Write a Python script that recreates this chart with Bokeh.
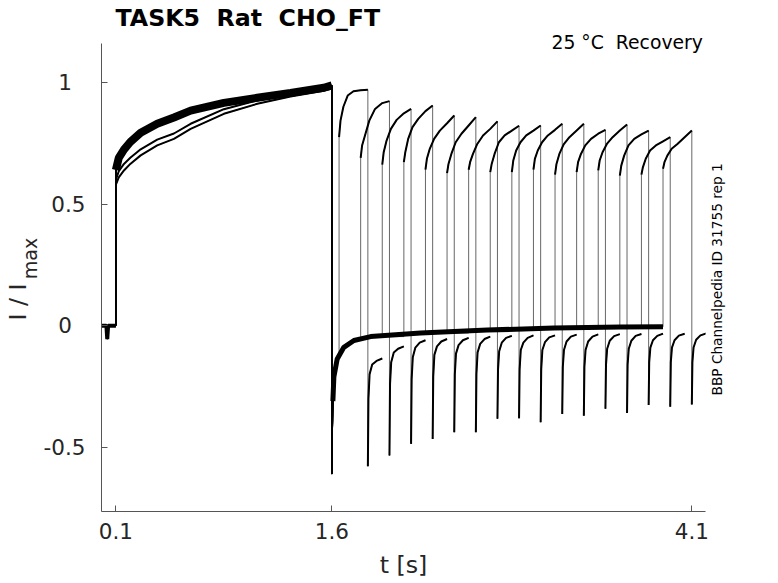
import math
from bokeh.plotting import figure
from bokeh.models import Range1d, FixedTicker, LinearAxis
from bokeh.embed import file_html
from bokeh.resources import INLINE

# ---------------- data ----------------
t_base = [0.0, 0.034, 0.040, 0.046, 0.1]
i_base = [0.0, 0.0, -0.055, 0.0, 0.0]

t_pre = [0.1, 0.12, 0.156, 0.20, 0.272, 0.387, 0.503, 0.619, 0.85, 1.082, 1.313, 1.544, 1.6]
i_pre_upper = [0.64, 0.69, 0.724, 0.755, 0.793, 0.830, 0.856, 0.884, 0.916, 0.937, 0.957, 0.978, 0.988]
i_pre_low1 = [0.58, 0.61, 0.638, 0.665, 0.700, 0.741, 0.768, 0.809, 0.871, 0.912, 0.942, 0.966, 0.975]
i_pre_low2 = [0.60, 0.635, 0.665, 0.690, 0.725, 0.765, 0.790, 0.830, 0.890, 0.926, 0.952, 0.972, 0.980]

t_rec = [1.6, 1.607, 1.614, 1.637, 1.683, 1.753, 1.869, 2.216, 2.679, 3.142, 3.605, 3.9]
i_rec = [-0.61, -0.31, -0.21, -0.137, -0.089, -0.061, -0.045, -0.030, -0.018, -0.010, -0.005, -0.004]

test_start = [1.65, 1.80, 1.95, 2.10, 2.25, 2.40, 2.55, 2.70,
              2.85, 3.00, 3.15, 3.30, 3.45, 3.60, 3.75, 3.90]
test_tau = [0.0, 0.01, 0.03, 0.06, 0.10, 0.15, 0.20]
test_i = [
    [0.775, 0.843, 0.900, 0.946, 0.964, 0.968, 0.970],
    [0.690, 0.741, 0.782, 0.843, 0.891, 0.915, 0.923],
    [0.662, 0.713, 0.761, 0.809, 0.846, 0.873, 0.891],
    [0.672, 0.713, 0.768, 0.816, 0.850, 0.882, 0.905],
    [0.641, 0.686, 0.727, 0.768, 0.802, 0.832, 0.864],
    [0.627, 0.665, 0.706, 0.754, 0.789, 0.823, 0.857],
    [0.641, 0.672, 0.706, 0.747, 0.782, 0.809, 0.840],
    [0.631, 0.665, 0.706, 0.754, 0.782, 0.802, 0.822],
    [0.631, 0.679, 0.720, 0.754, 0.782, 0.802, 0.823],
    [0.641, 0.686, 0.720, 0.754, 0.782, 0.805, 0.830],
    [0.621, 0.665, 0.706, 0.745, 0.775, 0.802, 0.830],
    [0.631, 0.672, 0.706, 0.741, 0.768, 0.789, 0.805],
    [0.638, 0.679, 0.713, 0.747, 0.775, 0.802, 0.827],
    [0.617, 0.658, 0.699, 0.741, 0.768, 0.786, 0.802],
    [0.621, 0.651, 0.686, 0.720, 0.741, 0.758, 0.775],
    [0.645, 0.672, 0.699, 0.727, 0.747, 0.775, 0.802],
]
tail_tau = [0.0, 0.004, 0.012, 0.03, 0.06, 0.10]
tail_i = [
    [-0.578, -0.30, -0.20, -0.160, -0.145, -0.135],
    [-0.534, -0.24, -0.15, -0.110, -0.095, -0.085],
    [-0.486, -0.22, -0.13, -0.090, -0.070, -0.060],
    [-0.466, -0.21, -0.12, -0.085, -0.065, -0.055],
    [-0.438, -0.20, -0.115, -0.080, -0.060, -0.050],
    [-0.438, -0.20, -0.110, -0.075, -0.055, -0.045],
    [-0.383, -0.18, -0.105, -0.070, -0.050, -0.042],
    [-0.381, -0.18, -0.100, -0.070, -0.050, -0.040],
    [-0.397, -0.18, -0.100, -0.068, -0.048, -0.040],
    [-0.363, -0.17, -0.100, -0.065, -0.045, -0.037],
    [-0.370, -0.17, -0.100, -0.065, -0.045, -0.036],
    [-0.342, -0.16, -0.095, -0.062, -0.043, -0.035],
    [-0.359, -0.16, -0.095, -0.062, -0.042, -0.034],
    [-0.326, -0.15, -0.090, -0.060, -0.042, -0.033],
    [-0.333, -0.15, -0.090, -0.060, -0.041, -0.033],
    [-0.324, -0.15, -0.090, -0.058, -0.040, -0.032],
]
pre_group = [1, 2, 0, 0, 0, 0, 0, 0, 0, 0, 0, 0, 0, 0, 0, 0]

NB = "\u00a0"
x_ticks = [0.1, 1.6, 4.1]
y_ticks = [-0.5, 0, 0.5, 1]
y_tick_labels = ["-0.5", "0" + NB + NB, "0.5", "1" + NB + NB]

title_text = "TASK5" + NB + " Rat" + NB + " CHO_FT"
note_text = "25 \u00b0C" + NB + " Recovery"
side_text = "BBP Channelpedia ID 31755 rep 1"
xlabel_text = "t [s]"
ylabel_main = "I / I"
ylabel_sub = "max"

# ---------------- figure ----------------
X0, X1 = 0.0, 4.195
Y0, Y1 = -0.764, 1.160
W, H = 778, 583
BL, BR, BT, BB = 101, 73, 43, 72
FW, FH = W - BL - BR, H - BT - BB

p = figure(width=W, height=H, output_backend="svg", toolbar_location=None,
           x_range=Range1d(X0, X1), y_range=Range1d(Y0, Y1),
           min_border_left=BL, min_border_right=BR, min_border_top=BT, min_border_bottom=BB)
p.outline_line_color = None
p.grid.visible = False
p.background_fill_color = "white"
p.border_fill_color = "white"

for ax in (p.xaxis[0], p.yaxis[0]):
    ax.axis_line_color = "#555555"
    ax.major_tick_line_color = "#555555"
    ax.major_tick_in = 6
    ax.major_tick_out = 0
    ax.minor_tick_line_color = None
    ax.major_label_text_font = "DejaVu Sans"
    ax.major_label_text_font_size = "21.5px"
    ax.major_label_text_color = "#262626"

p.xaxis.ticker = FixedTicker(ticks=x_ticks)
p.xaxis.major_label_overrides = {t: str(t) for t in x_ticks}
p.xaxis.major_label_standoff = 11
p.xaxis.axis_label = xlabel_text
p.xaxis.axis_label_text_font = "DejaVu Sans"
p.xaxis.axis_label_text_font_size = "23.7px"
p.xaxis.axis_label_text_font_style = "normal"
p.xaxis.axis_label_text_color = "#262626"
p.xaxis.axis_label_standoff = 9

p.yaxis.ticker = FixedTicker(ticks=y_ticks)
p.yaxis.major_label_overrides = {t: s for t, s in zip(y_ticks, y_tick_labels)}
p.yaxis.major_label_standoff = 16

# title
p.title.text = title_text
p.title.align = "left"
p.title.offset = 14
p.title.standoff = -7
p.title.text_font = "DejaVu Sans"
p.title.text_font_size = "23.7px"
p.title.text_font_style = "bold"
p.title.text_color = "black"

# ---------------- traces ----------------
pre_sets = [i_pre_upper, i_pre_low1, i_pre_low2]

for k, start in enumerate(test_start):
    end = start + test_tau[-1]
    rec_t = [t for t in t_rec if t < start]
    rec_i = i_rec[:len(rec_t)]
    xs = t_base + t_pre + rec_t + [start] + [start + tau for tau in test_tau] + [end + tau for tau in tail_tau]
    ys = i_base + pre_sets[pre_group[k]] + rec_i + [rec_i[-1]] + test_i[k] + tail_i[k]
    p.line(xs, ys, line_color="black", line_width=1, line_alpha=0.6)

p.line(t_base, i_base, line_color="black", line_width=4)
p.line(t_pre, i_pre_upper, line_color="black", line_width=8)
p.line(t_pre, i_pre_low1, line_color="black", line_width=2)
p.line(t_pre, i_pre_low2, line_color="black", line_width=2)
p.line(t_rec[1:], i_rec[1:], line_color="black", line_width=5)
for k, start in enumerate(test_start):
    end = start + test_tau[-1]
    p.line([start + tau for tau in test_tau], test_i[k], line_color="black", line_width=2)
    p.line([end + tau for tau in tail_tau], tail_i[k], line_color="black", line_width=2)

# ---------------- texts outside the frame, as extra (line-less) axes ----------------
def px_x(px):
    return X0 + (px - BL) * (X1 - X0) / FW

def px_y(py):
    return Y1 - (py - BT) * (Y1 - Y0) / FH

def text_axis(side, tick, text, size, orient, standoff, color="black"):
    ax = LinearAxis(ticker=FixedTicker(ticks=[tick]), major_label_overrides={tick: text})
    ax.axis_line_color = None
    ax.major_tick_line_color = None
    ax.minor_tick_line_color = None
    ax.major_tick_in = 0
    ax.major_tick_out = 0
    ax.major_label_orientation = orient
    ax.major_label_standoff = standoff
    ax.major_label_text_font = "DejaVu Sans"
    ax.major_label_text_font_size = size
    ax.major_label_text_color = color
    p.add_layout(ax, side)

text_axis("above", px_x(626.7), note_text, "18.8px", "horizontal", -9)
text_axis("left", px_y(258), ylabel_sub, "19px", "vertical", 0, "#262626")
text_axis("left", px_y(301.5), ylabel_main, "23.7px", "vertical", -16, "#262626")
text_axis("right", px_y(395), side_text, "13.7px", math.pi / 2, 11)

open("out.html", "w").write(file_html(p, INLINE))
